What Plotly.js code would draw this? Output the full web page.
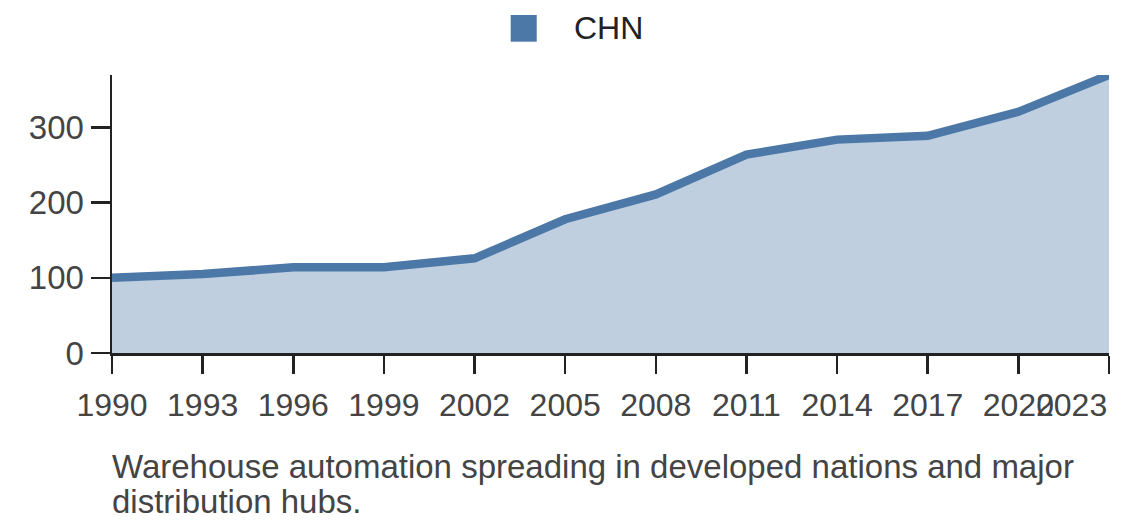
<!DOCTYPE html>
<html>
<head>
<meta charset="utf-8">
<script src="https://cdn.plot.ly/plotly-3.0.1.min.js"></script>
<style>
  html, body { margin: 0; padding: 0; background: #fff; }
  #chart { width: 1140px; height: 528px; }
</style>
</head>
<body>
<div id="chart"></div>
<script>
const years = [1990, 1993, 1996, 1999, 2002, 2005, 2008, 2011, 2014, 2017, 2020, 2023];
const chnValues = [100, 105, 114, 114, 126, 178, 211, 264, 284, 289, 321, 370];
const seriesName = "CHN";
const yTicks = [0, 100, 200, 300];
const xTickLabels = ["1990", "1993", "1996", "1999", "2002", "2005", "2008", "2011", "2014", "2017", "2020", "2023"];
const captionLines = ["Warehouse automation spreading in developed nations and major", "distribution hubs."];

const FONT = "Liberation Sans, Arial, Helvetica, sans-serif";
const BLUE = "#4c78a8";
const AXIS = "#222222";
const LABEL = "#444444";

const lastIdx = xTickLabels.length - 1;
const shownTickText = xTickLabels.map((t, i) => i === lastIdx ? "" : t);

const trace = {
  x: years,
  y: chnValues,
  name: seriesName,
  type: "scatter",
  mode: "lines",
  fill: "tozeroy",
  fillcolor: "rgba(76,120,168,0.355)",
  line: { color: BLUE, width: 8.5 },
  showlegend: false,
  hoverinfo: "x+y"
};

const captionY = [-0.4065, -0.534];

const layout = {
  width: 1140,
  height: 528,
  margin: { l: 112, r: 31, t: 75, b: 175, pad: 0 },
  paper_bgcolor: "#ffffff",
  plot_bgcolor: "#ffffff",
  font: { family: FONT, color: LABEL, size: 32 },
  showlegend: false,
  xaxis: {
    range: [years[0], years[lastIdx]],
    tickmode: "array",
    tickvals: years,
    ticktext: shownTickText,
    ticks: "outside",
    ticklen: 18,
    tickwidth: 2.5,
    tickcolor: AXIS,
    ticklabelstandoff: 4,
    showline: true,
    linecolor: AXIS,
    linewidth: 2.5,
    showgrid: false,
    zeroline: false,
    tickfont: { family: FONT, size: 32, color: LABEL },
    fixedrange: true
  },
  yaxis: {
    range: [0, chnValues[lastIdx]],
    tickmode: "array",
    tickvals: yTicks,
    ticktext: yTicks.map(String),
    ticks: "outside",
    ticklen: 19,
    tickwidth: 2.5,
    tickcolor: AXIS,
    showline: true,
    linecolor: AXIS,
    linewidth: 2.5,
    showgrid: false,
    zeroline: false,
    tickfont: { family: FONT, size: 33, color: LABEL },
    fixedrange: true
  },
  shapes: [
    {
      type: "rect",
      xref: "paper", yref: "paper",
      x0: 0.3999, x1: 0.4260,
      y0: 1.1198, y1: 1.2158,
      fillcolor: BLUE,
      line: { width: 0 }
    }
  ],
  annotations: [
    {
      text: seriesName,
      xref: "paper", yref: "paper",
      x: 0.4614, y: 1.169,
      xanchor: "left", yanchor: "middle",
      showarrow: false,
      font: { family: FONT, size: 32, color: "#222222" }
    },
    {
      text: xTickLabels[lastIdx],
      xref: "x", yref: "paper",
      x: years[lastIdx], y: -0.187,
      xanchor: "right", yanchor: "middle",
      showarrow: false,
      font: { family: FONT, size: 32, color: LABEL }
    }
  ].concat(captionLines.map((line, i) => ({
      text: line,
      xref: "paper", yref: "paper",
      x: -0.002, y: captionY[i],
      xanchor: "left", yanchor: "middle",
      align: "left",
      showarrow: false,
      font: { family: FONT, size: 33, color: LABEL }
  })))
};

Plotly.newPlot("chart", [trace], layout, { displayModeBar: false, staticPlot: true });
</script>
</body>
</html>
